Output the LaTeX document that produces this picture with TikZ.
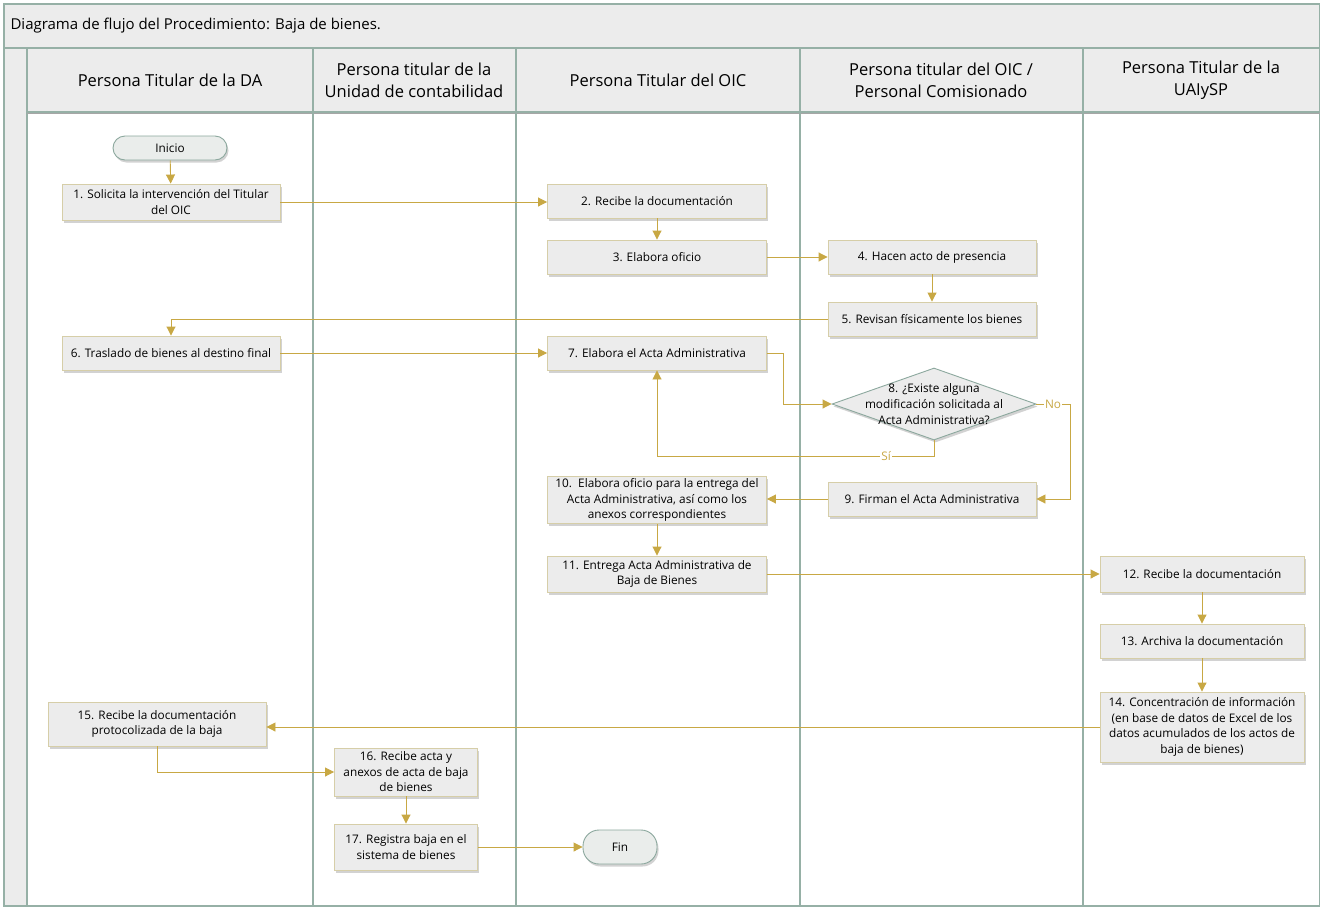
\documentclass[tikz,border=0pt]{standalone}
\usepackage{fontspec}
\setmainfont{Open Sans}
\usetikzlibrary{shapes.geometric,arrows.meta,shadows}
\definecolor{lane}{RGB}{150,176,166}
\definecolor{band}{RGB}{236,236,236}
\definecolor{boxfill}{RGB}{236,236,236}
\definecolor{boxline}{RGB}{214,206,168}
\definecolor{flowc}{RGB}{200,168,68}
\definecolor{termfill}{RGB}{234,237,235}
\definecolor{termline}{RGB}{140,168,158}
\tikzset{
  proc/.style={draw=boxline, fill=boxfill, line width=0.9pt, align=center, inner sep=2pt,
    font=\fontsize{11.8}{15.5}\selectfont,
    drop shadow={shadow xshift=1.5pt, shadow yshift=-2.5pt, fill=black!35}},
  term/.style={draw=termline, fill=termfill, line width=0.9pt, rounded corners=12pt, align=center,
    font=\fontsize{11.8}{15.5}\selectfont,
    drop shadow={shadow xshift=1.5pt, shadow yshift=-2.5pt, fill=black!35}},
  dec/.style={diamond, draw=termline, fill=boxfill, line width=0.9pt, inner sep=0pt,
    drop shadow={shadow xshift=1.5pt, shadow yshift=-2.5pt, fill=black!35}},
  flow/.style={draw=flowc, line width=0.9pt, -{Triangle[length=9pt,width=9pt]}},
  lbl/.style={text=flowc, fill=white, inner sep=1pt, font=\fontsize{11.8}{14}\selectfont},
  hdr/.style={align=center, font=\fontsize{16.5}{22}\selectfont},
  lanel/.style={draw=lane, line width=1.2pt}
}
\begin{document}
\begin{tikzpicture}[x=1pt,y=-1pt]
\useasboundingbox (0,0) rectangle (1320,908);
% background
\fill[band] (4,4) rectangle (1320,906);
\fill[white] (27,112) rectangle (1320,906);
\draw[lanel] (4,4) rectangle (1319.4,906);
\draw[lanel] (4,48) -- (1320,48);
\draw[lanel] (27,48) -- (27,906);
\draw[draw=black!35, line width=1.6pt] (27,112.8) -- (1320,112.8);
\draw[lanel] (27,112) -- (1320,112);
\foreach \xx in {313,516,800,1083} \draw[lanel] (\xx,48) -- (\xx,906);
% title and headers
\node[anchor=west, font=\fontsize{15}{18}\selectfont] (title) at (7,26) {Diagrama de flujo del Procedimiento: Baja de bienes.};
\node[hdr] (h1) at (170,80) {Persona Titular de la DA};
\node[hdr] (h2) at (414,80) {Persona titular de la\\Unidad de contabilidad};
\node[hdr] (h3) at (658,80) {Persona Titular del OIC};
\node[hdr] (h4) at (941,80) {Persona titular del OIC /\\Personal Comisionado};
\node[hdr] (h5) at (1201,80) {Persona Titular de la\\UAIySP};
% nodes
\node[term, minimum width=114pt, minimum height=24pt] (start) at (170,148) {Inicio};
\node[proc, minimum width=218pt, minimum height=36pt] (n1) at (171,202) {1. Solicita la intervención del Titular\\del OIC};
\node[proc, minimum width=219pt, minimum height=34pt] (n2) at (657,201) {2. Recibe la documentación};
\node[proc, minimum width=219pt, minimum height=34pt] (n3) at (657,257) {3. Elabora oficio};
\node[proc, minimum width=208pt, minimum height=34pt] (n4) at (932,257) {4. Hacen acto de presencia};
\node[proc, minimum width=208pt, minimum height=34pt] (n5) at (932,319) {5. Revisan físicamente los bienes};
\node[proc, minimum width=218pt, minimum height=34pt] (n6) at (171,353) {6. Traslado de bienes al destino final};
\node[proc, minimum width=219pt, minimum height=34pt] (n7) at (657,353) {7. Elabora el Acta Administrativa};
\node[dec, minimum width=204pt, minimum height=72pt] (d8) at (934,404) {};
\node[align=center, font=\fontsize{11.8}{16}\selectfont] (d8t) at (d8.center) {8. ¿Existe alguna\\modificación solicitada al\\Acta Administrativa?};
\node[proc, minimum width=208pt, minimum height=34pt] (n9) at (932,499) {9. Firman el Acta Administrativa};
\node[proc, minimum width=219pt, minimum height=47pt] (n10) at (657,500) {10.\ \ Elabora oficio para la entrega del\\Acta Administrativa, así como los\\anexos correspondientes};
\node[proc, minimum width=219pt, minimum height=36pt] (n11) at (657,574) {11. Entrega Acta Administrativa de\\Baja de Bienes};
\node[proc, minimum width=204pt, minimum height=36pt] (n12) at (1202,574) {12. Recibe la documentación};
\node[proc, minimum width=204pt, minimum height=34pt] (n13) at (1202,641) {13. Archiva la documentación};
\node[proc, minimum width=204pt, minimum height=70pt] (n14) at (1202,727) {14. Concentración de información\\(en base de datos de Excel de los\\datos acumulados de los actos de\\baja de bienes)};
\node[proc, minimum width=218pt, minimum height=44pt] (n15) at (157,724) {15. Recibe la documentación\\protocolizada de la baja};
\node[proc, minimum width=143pt, minimum height=48pt] (n16) at (406,772) {16. Recibe acta y\\anexos de acta de baja\\de bienes};
\node[proc, minimum width=143pt, minimum height=46pt] (n17) at (406,847) {17. Registra baja en el\\sistema de bienes};
\node[term, minimum width=74pt, minimum height=34pt, rounded corners=16pt] (fin) at (620,847) {Fin};
% connectors
\draw[flow] (start) -- (n1);
\draw[flow] (n1.east) -- (n1.east -| n2.west);
\draw[flow] (n2) -- (n3);
\draw[flow] (n3) -- (n4);
\draw[flow] (n4) -- (n5);
\draw[flow] (n5.west) -| (n6.north);
\draw[flow] (n6) -- (n7);
\draw[flow] (n7.east) -- ++(16,0) |- (d8.west);
\draw[flow] (d8.south) -- ++(0,16) coordinate (siturn) -| (n7.south);
\node[lbl] (si) at (886,456) {Sí};
\draw[flow] (d8.east) -- ++(34,0) coordinate (noturn) |- (n9.east);
\node[lbl] (no) at (1053,404) {No};
\draw[flow] (n9.west) -- (n9.west -| n10.east);
\draw[flow] (n10) -- (n11);
\draw[flow] (n11) -- (n12);
\draw[flow] (n12) -- (n13);
\draw[flow] (n13) -- (n14);
\draw[flow] (n14.west) -- (n14.west -| n15.east);
\draw[flow] (n15.south) |- (n16.west);
\draw[flow] (n16) -- (n17);
\draw[flow] (n17) -- (fin);
\end{tikzpicture}
\end{document}
